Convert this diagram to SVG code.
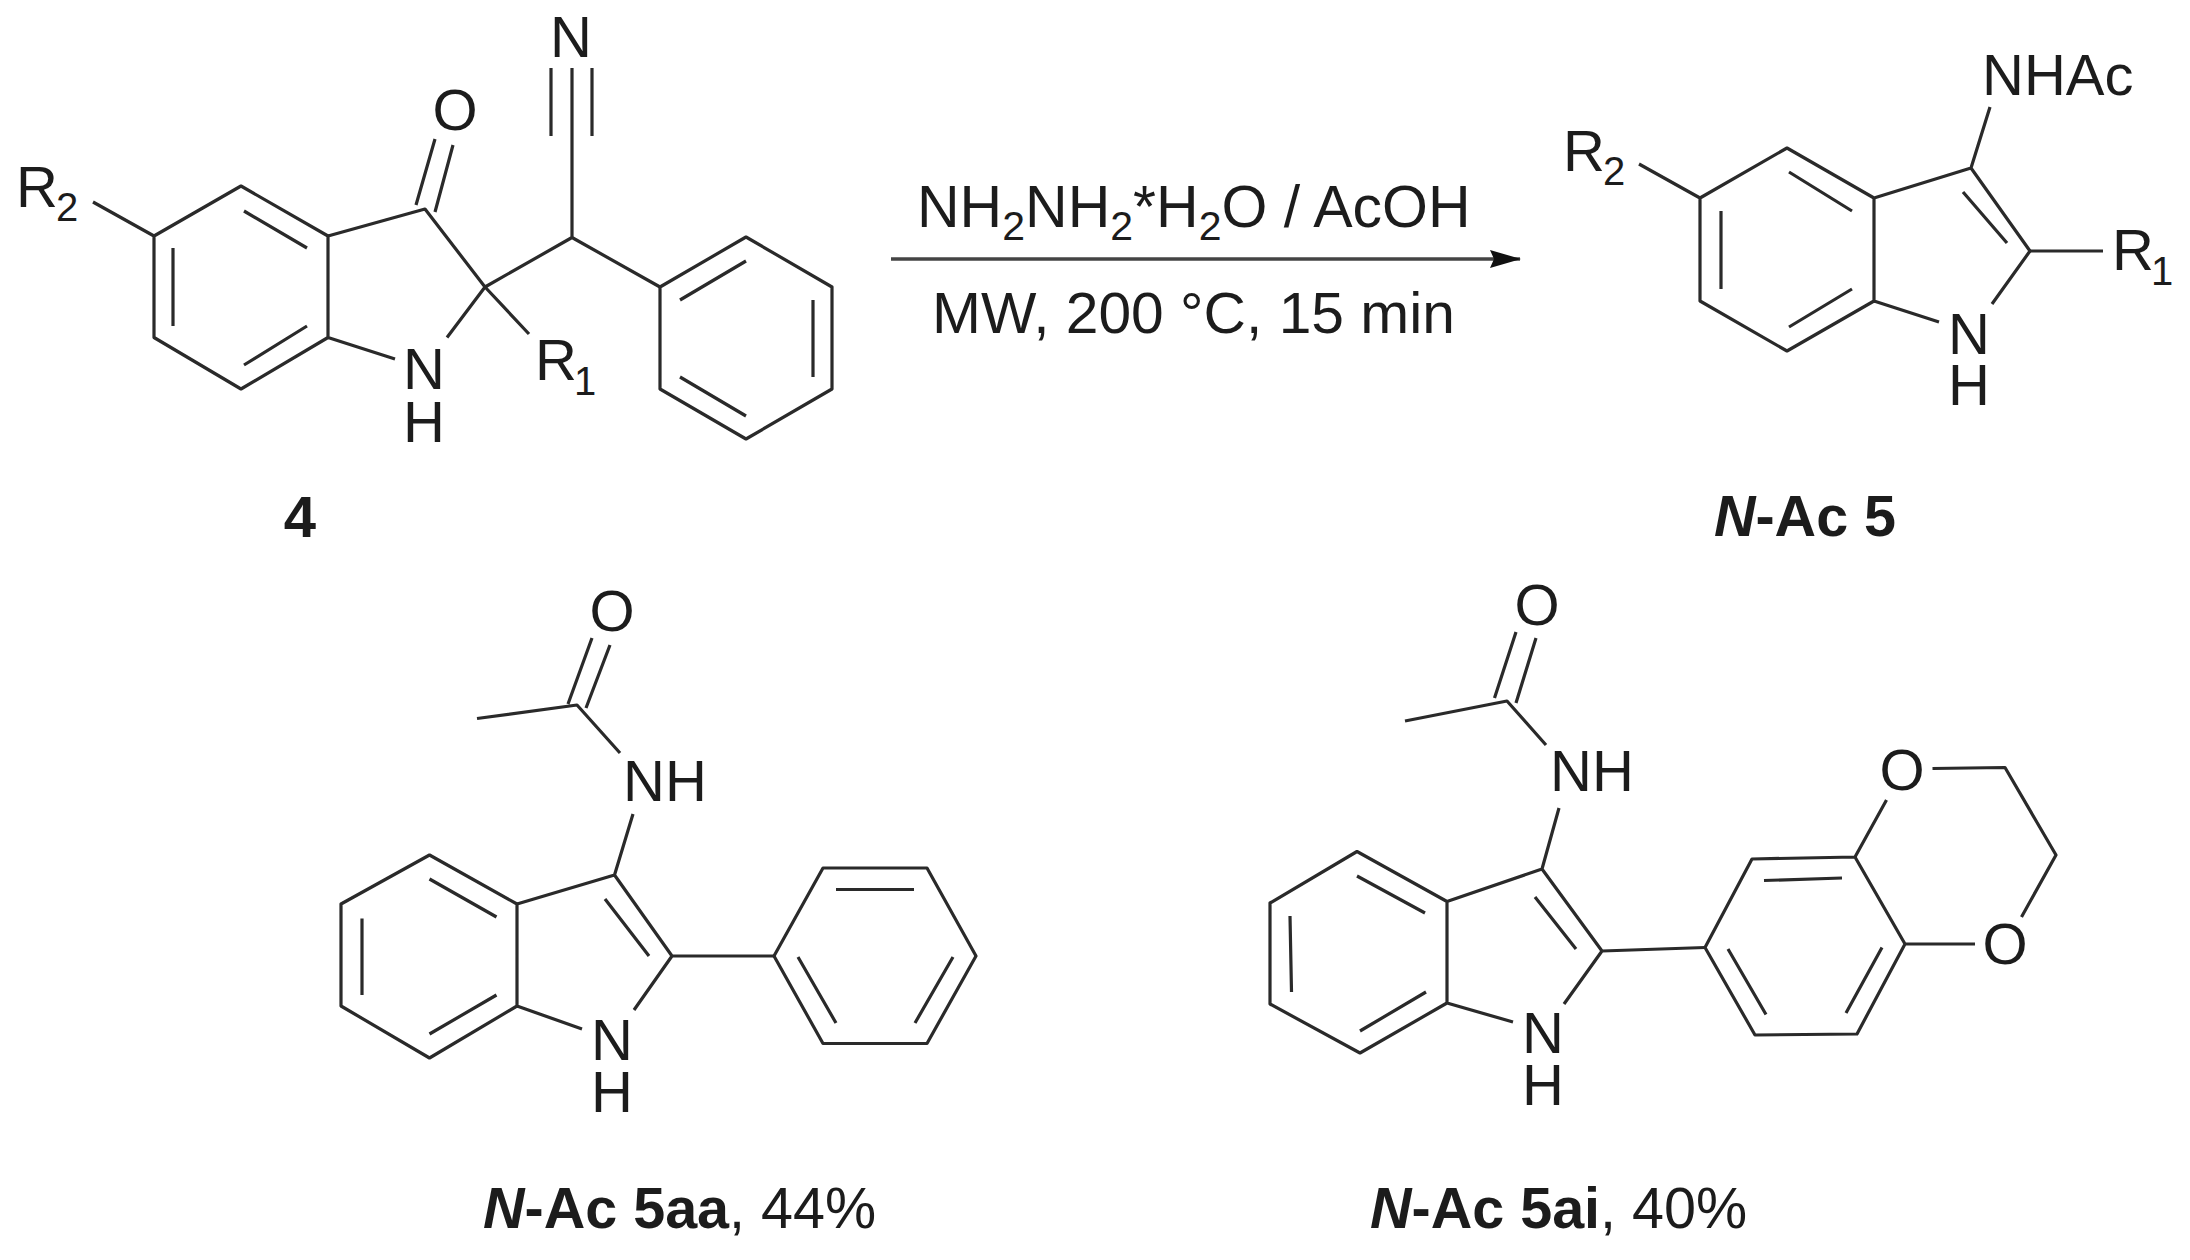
<svg xmlns="http://www.w3.org/2000/svg" width="2190" height="1260" viewBox="0 0 2190 1260">
<style>
.b{fill:none;stroke:#2a2a2a;stroke-width:3.2;stroke-linejoin:round;stroke-linecap:butt}
text{font-family:"Liberation Sans",Arial,sans-serif;font-size:58px;fill:#1c1c1c}
.m{text-anchor:middle}
.s{font-size:40px}
.l{font-size:57.5px}
.r{font-size:59px}
.r2{font-size:41px}
.B{font-weight:bold}
.I{font-weight:bold;font-style:italic}
</style>
<defs>
<marker id="head" markerUnits="userSpaceOnUse" markerWidth="32" markerHeight="20" refX="30" refY="9" orient="auto">
<path d="M0 0L31 9L0 18L4 9Z" fill="#111"/>
</marker>
</defs>
<rect width="2190" height="1260" fill="#fff"/>
<g id="compound-4">
<path class="b" d="M93 202L154 236L241 186L328 236V337.5L241 389L154 337.5V236M328 337.5L395 359M328 236L425 209L485 287L447 337.5M173 248V326M244 211L307 248M244 365L307 326M416 205L435 139M435 212L453 145M485 287L529 334M485 287L572 237.5L660 287M572 237.5V68M551 68V136M592 68V136"/>
<path class="b" d="M660 287L746 237L832 287V389L746 439L660 389ZM680 300L746 261M813 300V377M680 377L746 416"/>
<text class="m" x="571" y="57">N</text>
<text class="m" x="455" y="130">O</text>
<text x="16" y="207">R</text><text class="s" x="56" y="221">2</text>
<text x="535" y="380">R</text><text class="s" x="574" y="395">1</text>
<text class="m" x="424" y="389">N</text>
<text class="m" x="424" y="442">H</text>
<text class="m B" x="300" y="537">4</text>
</g>
<g id="conditions">
<text class="r" x="917" y="227">NH<tspan class="r2" dy="13">2</tspan><tspan dy="-13">NH</tspan><tspan class="r2" dy="13">2</tspan><tspan dy="-13">*H</tspan><tspan class="r2" dy="13">2</tspan><tspan dy="-13">O / AcOH</tspan></text>
<text x="932" y="333" textLength="523" lengthAdjust="spacingAndGlyphs">MW, 200 °C, 15 min</text>
</g>
<g id="connectors">
<line x1="891" y1="259" x2="1520" y2="259" stroke="#444" stroke-width="3.6" marker-end="url(#head)"/>
</g>
<g id="product-5">
<path class="b" d="M1639 164L1700 198L1787 148L1874 198V301L1787 351L1700 301V198M1874 301L1939 322M1874 198L1971 168L2030 251L1992 304M1721 211V289M1789 172L1852 211M1789 327L1852 289M1990 107L1971 168M1963 192L2007 243"/>
<path class="b" stroke-width="4" d="M2030 251H2103"/>
<text x="1982" y="95">NHAc</text>
<text x="1563" y="171">R</text><text class="s" x="1603" y="185">2</text>
<text x="2112" y="270">R</text><text class="s" x="2151" y="285">1</text>
<text class="m" x="1969" y="354">N</text>
<text class="m" x="1969" y="405">H</text>
<text class="l m" x="1805" y="536"><tspan class="I">N</tspan><tspan class="B">-Ac 5</tspan></text>
</g>
<g id="compound-5aa">
<path class="b" d="M477 718.5L577 705L620 753M568 704L592 638M586 708L610 645M633 814L614.5 875L517 904L429.5 855L341 904V1006L429.5 1058L517 1006V904M517 1006L582 1029M614.5 875L672 956L634 1010M672 956H774M362 918.5V995M429.5 879L496.5 917M429.5 1034L496.5 995M605 899L649 956"/>
<path class="b" d="M774 956L823 868H927L976 956L927 1043.5H823ZM836 889.5H914M798 957L836 1023M953 957L915 1023"/>
<text class="m" x="612" y="631">O</text>
<text x="623" y="801">NH</text>
<text class="m" x="612" y="1060">N</text>
<text class="m" x="612" y="1112">H</text>
<text class="l" x="483" y="1228"><tspan class="I">N</tspan><tspan class="B">-Ac 5aa</tspan>, 44%</text>
</g>
<g id="compound-5ai">
<path class="b" d="M1405 721L1507 701L1546 745M1494.5 698L1516 632M1516 703L1536 638M1559 808L1542 869L1447 901.5L1357 851.5L1270 903V1004L1360 1053L1447 1003V901.5M1447 1003L1513 1022M1542 869L1602 951L1564 1004M1602 951L1705 947.5M1290 916L1291.5 992M1357 876L1425 913M1360 1031L1426 992M1535 897L1576 949"/>
<path class="b" d="M1705 947.5L1752 859L1855 857L1905 944L1857 1034L1755 1035ZM1764 880.5L1842 878M1728 949L1766 1014.5M1882 947.5L1846 1013M1855 857L1886.5 800M1932.5 768.5L2005 767.5L2056 855L2021.5 917M1905 944H1975"/>
<text class="m" x="1537" y="625">O</text>
<text x="1550" y="791">NH</text>
<text class="m" x="1543" y="1053">N</text>
<text class="m" x="1543" y="1105">H</text>
<text class="m" x="1902" y="790">O</text>
<text class="m" x="2005" y="964">O</text>
<text class="l" x="1370" y="1228"><tspan class="I">N</tspan><tspan class="B">-Ac 5ai</tspan>, 40%</text>
</g>
</svg>
